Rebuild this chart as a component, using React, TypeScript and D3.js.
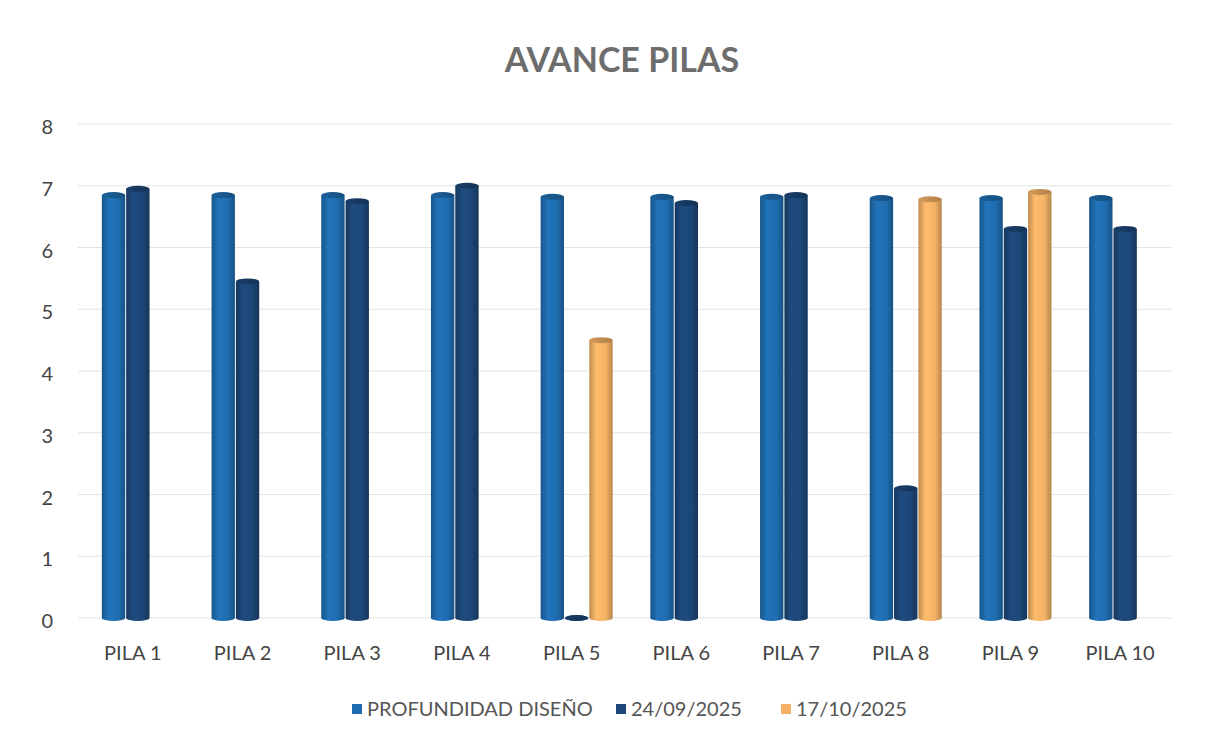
import React from "react";
import * as d3 from "d3";

const categories = ["PILA 1", "PILA 2", "PILA 3", "PILA 4", "PILA 5", "PILA 6", "PILA 7", "PILA 8", "PILA 9", "PILA 10"];
const profundidad = [6.85, 6.85, 6.85, 6.85, 6.82, 6.82, 6.82, 6.8, 6.8, 6.8];
const fecha1 = [6.95, 5.45, 6.75, 7.0, 0, 6.72, 6.85, 2.1, 6.3, 6.3];
const fecha2: (number | null)[] = [null, null, null, null, 4.5, null, null, 6.78, 6.9, null];
const seriesNames = ["PROFUNDIDAD DISEÑO", "24/09/2025", "17/10/2025"];
const seriesColors = ["#1f6db0", "#1c4778", "#f4b266"];
const yTicks = [0, 1, 2, 3, 4, 5, 6, 7, 8];

const W = 1228, H = 739;
const FONT = "Lato, 'Open Sans', sans-serif";

export default function App() {
  const x = d3.scaleBand<string>().domain(categories).range([78, 1175]);
  const y = d3.scaleLinear().domain([0, 8]).range([618, 124]);
  const inner = d3.scaleBand<number>().domain([0, 1, 2]).range([-31, 41]).paddingInner(0.04);
  const bw = inner.bandwidth();
  const ry = 3;
  const all = [profundidad, fecha1, fecha2];

  const cyl = (cx: number, v: number, s: number, key: string) => {
    const top = y(v);
    const bot = y(0);
    return (
      <g key={key}>
        <rect x={cx} y={top} width={bw} height={bot - top} fill={`url(#grad${s})`} />
        <ellipse cx={cx + bw / 2} cy={bot} rx={bw / 2} ry={ry} fill={`url(#grad${s})`} />
        <ellipse cx={cx + bw / 2} cy={top} rx={bw / 2} ry={ry} fill={`url(#top${s})`} />
      </g>
    );
  };

  return (
    <svg width={W} height={H} style={{ display: "block", position: "absolute", left: 0, top: 0 }}>
      <defs>
        {seriesColors.map((c, i) => {
          const col = d3.color(c)!;
          return (
            <React.Fragment key={i}>
              <linearGradient id={`grad${i}`} x1="0" x2="1" y1="0" y2="0">
                <stop offset="0%" stopColor={col.darker(0.7).toString()} />
                <stop offset="30%" stopColor={col.brighter(0.15).toString()} />
                <stop offset="70%" stopColor={c} />
                <stop offset="100%" stopColor={col.darker(0.8).toString()} />
              </linearGradient>
              <linearGradient id={`top${i}`} x1="0" x2="1" y1="0" y2="0">
                <stop offset="0%" stopColor={col.darker(0.4).toString()} />
                <stop offset="100%" stopColor={col.darker(0.9).toString()} />
              </linearGradient>
            </React.Fragment>
          );
        })}
      </defs>
      <rect x={0} y={0} width={W} height={H} fill="#ffffff" />
      <text x={622} y={72} textAnchor="middle" fontFamily={FONT} fontWeight="bold" fontSize={34} fill="#6d6d6d">
        AVANCE PILAS
      </text>
      {yTicks.map((t) => (
        <g key={t}>
          <line x1={78} x2={1172} y1={y(t)} y2={y(t)} stroke="#e3e3e3" strokeWidth={1} />
          <text x={53} y={y(t) + 3} dy="0.35em" textAnchor="end" fontFamily={FONT} fontSize={20} fill="#444">
            {t}
          </text>
        </g>
      ))}
      {categories.map((c, i) => {
        const cx = x(c)! + x.bandwidth() / 2;
        return (
          <g key={c}>
            {all.map((arr, s) => {
              const v = arr[i];
              if (v === null || v === undefined) return null;
              return cyl(cx + inner(s)!, v, s, `${c}-${s}`);
            })}
            <text x={cx} y={660} textAnchor="middle" fontFamily={FONT} fontSize={20} fill="#444">
              {c}
            </text>
          </g>
        );
      })}
      {(() => {
        const pos = [352, 616, 781];
        return seriesNames.map((n, i) => (
          <g key={n}>
            <rect x={pos[i]} y={704} width={10} height={10} fill={seriesColors[i]} />
            <text x={pos[i] + 15} y={709} dy="0.35em" fontFamily={FONT} fontSize={20} fill="#555">
              {n}
            </text>
          </g>
        ));
      })()}
    </svg>
  );
}
